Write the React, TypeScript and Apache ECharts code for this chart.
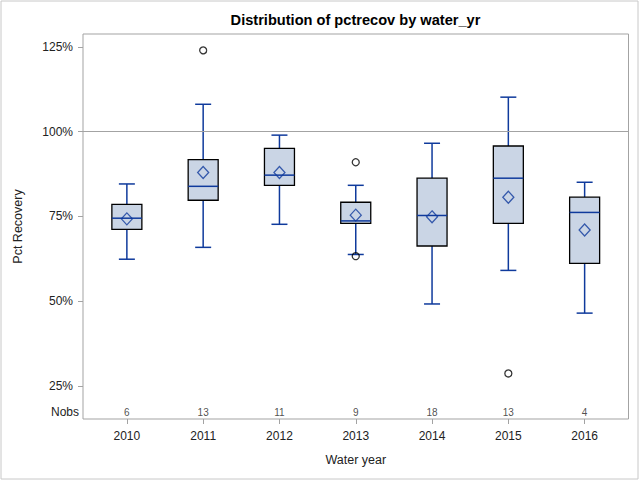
import React, { useEffect, useRef } from "react";
import * as echarts from "echarts";

const years = ["2010", "2011", "2012", "2013", "2014", "2015", "2016"];
const whiskerLow = [62.4, 65.9, 72.7, 63.8, 49.2, 59.1, 46.5];
const q1 = [71.2, 79.8, 84.2, 73.0, 66.3, 73.0, 61.2];
const median = [74.5, 83.9, 87.2, 73.7, 75.3, 86.3, 76.2];
const q3 = [78.6, 91.8, 95.1, 79.2, 86.3, 95.8, 80.7];
const whiskerHigh = [84.6, 108.1, 99.0, 84.2, 96.6, 110.2, 85.1];
const means = [74.3, 88.0, 88.0, 75.4, 74.9, 80.7, 71.0];
const nobs = [6, 13, 11, 9, 18, 13, 4];
const outlierYearIdx = [1, 3, 3, 5];
const outlierValues = [124.0, 91.0, 63.3, 28.7];
const yTicks = [25, 50, 75, 100, 125];
const refLine = 100;
const nobsRowValue = 17.3;

const BLUE = "#0F3A9C";
const FILL = "#CAD5E5";
const FRAME = "#A3A3A3";
const FONT = "'Liberation Sans', Arial, sans-serif";

export default function App() {
  const ref = useRef<HTMLDivElement>(null);
  useEffect(() => {
    document.body.style.margin = "0";
    if (!ref.current) return;
    const chart = echarts.init(ref.current, undefined, { renderer: "svg" });
    const boxData = years.map((_, i) => [i, whiskerLow[i], q1[i], median[i], q3[i], whiskerHigh[i]]);
    const option: any = {
      animation: false,
      backgroundColor: "#ffffff",
      textStyle: { fontFamily: FONT },
      grid: {
        left: 83,
        right: 11.5,
        top: 34,
        bottom: 61,
        show: true,
        borderColor: FRAME,
        borderWidth: 1,
        backgroundColor: "transparent",
      },
      xAxis: {
        type: "value",
        min: -0.575,
        max: 6.575,
        name: "Water year",
        nameLocation: "middle",
        nameGap: 34,
        nameTextStyle: { fontSize: 12.5, color: "#222", fontFamily: FONT },
        axisLine: { show: false, onZero: false },
        splitLine: { show: false },
        axisTick: { show: true, customValues: years.map((_, i) => i), length: 5, lineStyle: { color: FRAME } },
        axisLabel: {
          customValues: years.map((_, i) => i),
          formatter: (v: number) => years[Math.round(v)] ?? "",
          fontSize: 12,
          color: "#222",
          margin: 11,
          fontFamily: FONT,
        },
      },
      yAxis: {
        type: "value",
        min: 15.27,
        max: 128.83,
        name: "Pct Recovery",
        nameLocation: "middle",
        nameGap: 59,
        nameTextStyle: { fontSize: 12.5, color: "#222", fontFamily: FONT },
        axisLine: { show: false, onZero: false },
        splitLine: { show: false },
        axisTick: { show: true, customValues: yTicks, length: 5, lineStyle: { color: FRAME } },
        axisLabel: {
          customValues: yTicks,
          formatter: (v: number) => v + "%",
          fontSize: 12,
          color: "#222",
          margin: 10,
          fontFamily: FONT,
        },
      },
      graphic: [
        {
          type: "rect",
          shape: { x: 1, y: 1, width: 637, height: 478 },
          style: { fill: "none", stroke: "#C8C8C8", lineWidth: 1 },
          silent: true,
        },
        {
          type: "text",
          x: 355.5,
          y: 20,
          style: {
            text: "Distribution of pctrecov by water_yr",
            font: "bold 14.6px " + FONT,
            fill: "#000",
            textAlign: "center",
            textVerticalAlign: "middle",
          },
        },
        {
          type: "text",
          x: 79,
          y: 412,
          style: {
            text: "Nobs",
            font: "12px " + FONT,
            fill: "#222",
            textAlign: "right",
            textVerticalAlign: "middle",
          },
        },
      ],
      series: [
        {
          type: "custom",
          data: boxData,
          encode: { x: 0, y: [1, 2, 3, 4, 5] },
          z: 2,
          renderItem: (params: any, api: any) => {
            const x = api.value(0);
            const pLow = api.coord([x, api.value(1)]);
            const pQ1 = api.coord([x, api.value(2)]);
            const pMed = api.coord([x, api.value(3)]);
            const pQ3 = api.coord([x, api.value(4)]);
            const pHigh = api.coord([x, api.value(5)]);
            const cx = pQ1[0];
            const hw = 15;
            const cw = 8;
            const lineStyle = { stroke: BLUE, lineWidth: 1.5 };
            return {
              type: "group",
              children: [
                { type: "line", shape: { x1: cx, y1: pHigh[1], x2: cx, y2: pQ3[1] }, style: lineStyle },
                { type: "line", shape: { x1: cx, y1: pQ1[1], x2: cx, y2: pLow[1] }, style: lineStyle },
                { type: "line", shape: { x1: cx - cw, y1: pHigh[1], x2: cx + cw, y2: pHigh[1] }, style: lineStyle },
                { type: "line", shape: { x1: cx - cw, y1: pLow[1], x2: cx + cw, y2: pLow[1] }, style: lineStyle },
                {
                  type: "rect",
                  shape: { x: cx - hw, y: pQ3[1], width: hw * 2, height: pQ1[1] - pQ3[1] },
                  style: { fill: FILL, stroke: "#000", lineWidth: 1.3 },
                },
                { type: "line", shape: { x1: cx - hw, y1: pMed[1], x2: cx + hw, y2: pMed[1] }, style: lineStyle },
              ],
            };
          },
        },
        {
          type: "scatter",
          data: means.map((m, i) => [i, m]),
          symbol: "diamond",
          symbolSize: [11, 12],
          z: 3,
          itemStyle: { color: "rgba(0,0,0,0)", borderColor: BLUE, borderWidth: 1.3 },
        },
        {
          type: "scatter",
          data: outlierValues.map((v, k) => [outlierYearIdx[k], v]),
          symbol: "circle",
          symbolSize: 7,
          z: 3,
          itemStyle: { color: "rgba(0,0,0,0)", borderColor: "#000", borderWidth: 1.3 },
          markLine: {
            silent: true,
            symbol: ["none", "none"],
            label: { show: false },
            lineStyle: { color: FRAME, type: "solid", width: 1 },
            data: [{ yAxis: refLine }],
          },
        },
        {
          type: "scatter",
          data: nobs.map((n, i) => [i, nobsRowValue, n]),
          symbolSize: 0,
          itemStyle: { color: "rgba(0,0,0,0)" },
          label: {
            show: true,
            position: "inside",
            formatter: (p: any) => String(p.value[2]),
            fontSize: 10,
            color: "#222",
            fontFamily: FONT,
          },
        },
      ],
    };
    chart.setOption(option);
    return () => chart.dispose();
  }, []);
  return <div ref={ref} style={{ width: 640, height: 480 }} />;
}
